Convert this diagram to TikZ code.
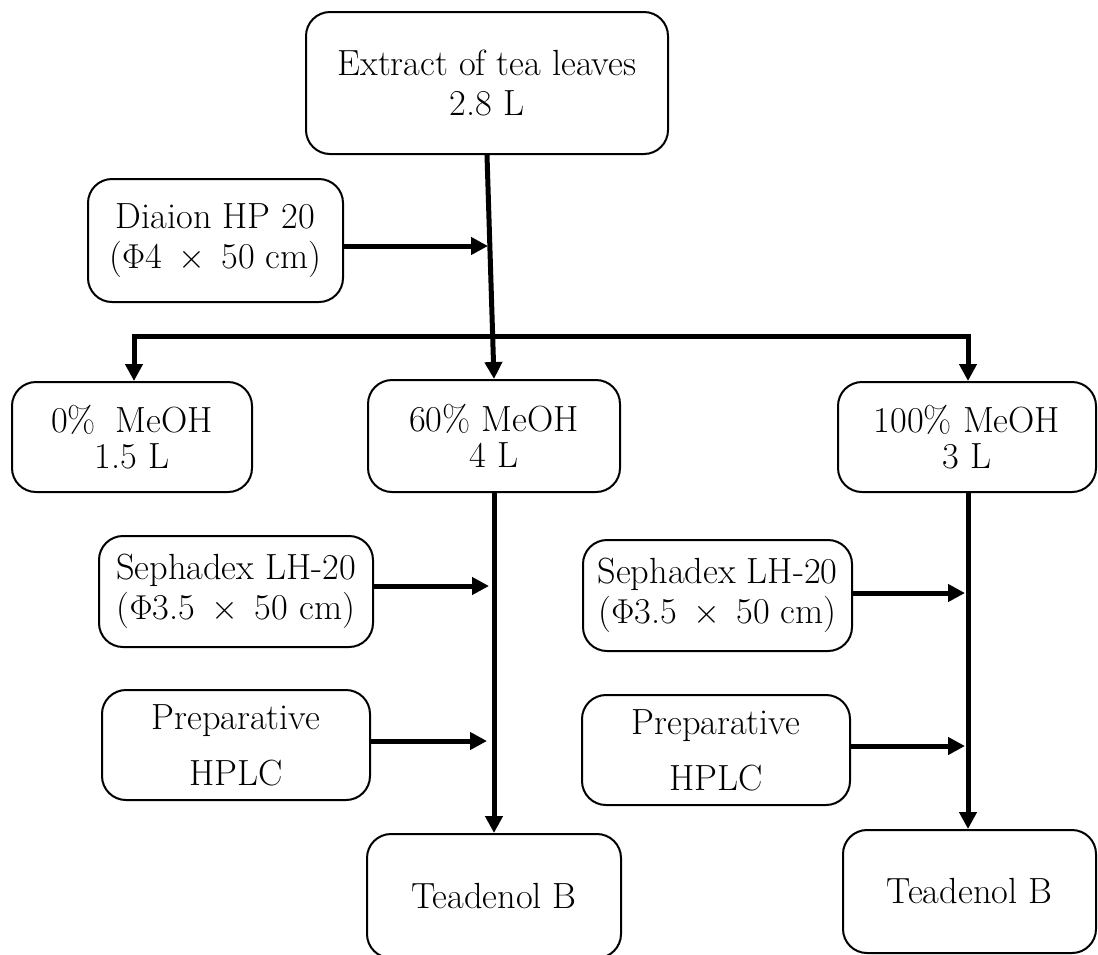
\documentclass[tikz,border=0pt]{standalone}
\usetikzlibrary{arrows.meta}
\begin{document}
\begin{tikzpicture}[x=0.5pt,y=-0.5pt,
  box/.style={draw, line width=1pt, rounded corners=12pt, align=center, inner sep=0pt,
    font=\fontsize{18.2}{19}\selectfont},
  arr/.style={line width=2.5pt, -{Triangle[length=8.5pt,width=8.5pt]}},
  link/.style={line width=2.5pt}]
\useasboundingbox (0,0) rectangle (1098,954);
\clip (0,0) rectangle (1098,954);

\node[box, minimum width=181pt, minimum height=71pt] (top) at (487,83) {Extract of tea leaves\\[1pt]2.8 L};
\node[box, minimum width=127.5pt, minimum height=61.5pt] (diaion) at (215.5,240.5) {Diaion HP 20\\[1pt]($\Phi$4\hspace{0.45em}$\times$\hspace{0.45em}50 cm)};
\node[box, minimum width=120pt, minimum height=55pt] (m0) at (132,437) {0\%\hspace{0.55em}MeOH\\[-1pt]1.5 L};
\node[box, minimum width=126pt, minimum height=56pt] (m60) at (494,436) {60\% MeOH\\[-1pt]4 L};
\node[box, minimum width=129pt, minimum height=55pt] (m100) at (967,437) {100\% MeOH\\[-1pt]3 L};
\node[box, minimum width=137pt, minimum height=55.5pt] (seph1) at (236,591.5) {Sephadex LH-20\\[1pt]($\Phi$3.5\hspace{0.45em}$\times$\hspace{0.45em}50 cm)};
\node[box, minimum width=134.5pt, minimum height=55.5pt] (seph2) at (717.5,595.5) {Sephadex LH-20\\[1pt]($\Phi$3.5\hspace{0.45em}$\times$\hspace{0.45em}50 cm)};
\node[box, minimum width=134pt, minimum height=55pt] (prep1) at (236,745) {Preparative\\[9pt]HPLC};
\node[box, minimum width=134pt, minimum height=55pt] (prep2) at (716,750) {Preparative\\[9pt]HPLC};
\node[box, minimum width=127pt, minimum height=62pt] (tea1) at (494,896) {Teadenol B};
\node[box, minimum width=126.5pt, minimum height=61.5pt] (tea2) at (969.5,891.5) {Teadenol B};

% main flow from extract to 60% MeOH
\draw[arr] (top.south) -- (m60.north);
% Diaion feed
\coordinate (j1) at (488,246);
\draw[arr] (diaion.east |- j1) -- (j1);
% branch to 0% and 100%
\coordinate (bl) at (134,336);
\coordinate (br) at (968,336);
\draw[line width=2.5pt, line join=miter, {Triangle[length=8.5pt,width=8.5pt]}-{Triangle[length=8.5pt,width=8.5pt]}]
  (bl |- m0.north) -- (bl) -- (br) -- (br |- m100.north);

% left column
\draw[arr] (m60.south) -- (tea1.north);
\coordinate (j2) at (489,586);
\coordinate (j3) at (487,741);
\draw[arr] (seph1.east |- j2) -- (j2);
\draw[arr] (prep1.east |- j3) -- (j3);

% right column
\coordinate (rc) at (968,0);
\draw[arr] (rc |- m100.south) -- (rc |- tea2.north);
\coordinate (j4) at (965,593);
\coordinate (j5) at (965,746);
\draw[arr] (seph2.east |- j4) -- (j4);
\draw[arr] (prep2.east |- j5) -- (j5);
\end{tikzpicture}
\end{document}
